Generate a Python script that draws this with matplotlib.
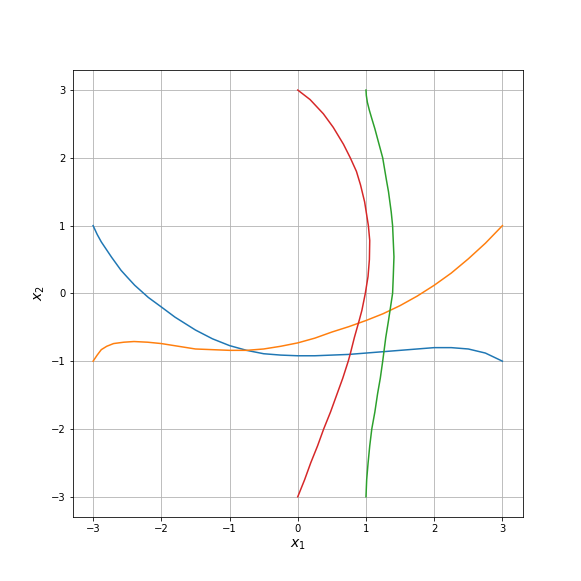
import matplotlib
matplotlib.use("Agg")
import matplotlib.pyplot as plt

# curves
blue_x = [-3.0, -2.94, -2.88, -2.8, -2.73, -2.59, -2.5, -2.39, -2.19, -2.0, -1.8, -1.5, -1.25,
          -1.0, -0.75, -0.5, -0.25, 0.0, 0.25, 0.5, 0.75, 1.0, 1.25, 1.5, 1.75, 2.0, 2.25, 2.5,
          2.75, 3.0]
blue_y = [1.0, 0.87, 0.76, 0.64, 0.535, 0.34, 0.24, 0.12, -0.06, -0.20, -0.35, -0.54, -0.67,
          -0.77, -0.84, -0.89, -0.91, -0.92, -0.92, -0.91, -0.90, -0.88, -0.86, -0.84, -0.82,
          -0.80, -0.80, -0.82, -0.88, -1.0]

orange_x = [-3.0, -2.94, -2.88, -2.8, -2.7, -2.55, -2.4, -2.2, -2.0, -1.75, -1.5, -1.25, -1.0,
            -0.75, -0.5, -0.25, 0.0, 0.25, 0.5, 0.75, 1.0, 1.25, 1.5, 1.75, 2.0, 2.25, 2.5, 2.75, 3.0]
orange_y = [-1.0, -0.91, -0.83, -0.78, -0.74, -0.72, -0.71, -0.72, -0.74, -0.78, -0.82, -0.83, -0.84,
            -0.84, -0.82, -0.78, -0.73, -0.66, -0.57, -0.49, -0.40, -0.30, -0.18, -0.04, 0.12, 0.30,
            0.51, 0.74, 1.0]

green_x = [1.0, 1.005, 1.02, 1.05, 1.085, 1.13, 1.17, 1.245, 1.30, 1.33, 1.37, 1.39, 1.41, 1.40,
           1.39, 1.36, 1.33, 1.29, 1.245, 1.21, 1.17, 1.13, 1.085, 1.055, 1.03, 1.01, 1.0]
green_y = [3.0, 2.92, 2.82, 2.70, 2.58, 2.43, 2.28, 2.0, 1.67, 1.5, 1.2, 1.0, 0.54, 0.25,
           0.0, -0.2, -0.4, -0.65, -1.0, -1.25, -1.48, -1.75, -2.0, -2.25, -2.51, -2.75, -3.0]

red_x = [0.0, 0.09, 0.18, 0.375, 0.52, 0.67, 0.77, 0.86, 0.92, 0.98, 1.035, 1.055, 1.05, 1.03,
         0.99, 0.94, 0.90, 0.83, 0.77, 0.74, 0.66, 0.57, 0.48, 0.38, 0.29, 0.19, 0.10, 0.0]
red_y = [3.0, 2.93, 2.86, 2.65, 2.45, 2.20, 2.0, 1.8, 1.6, 1.35, 1.0, 0.78, 0.5, 0.25,
         0.0, -0.25, -0.4, -0.65, -0.89, -1.0, -1.25, -1.5, -1.75, -2.0, -2.25, -2.5, -2.75, -3.0]

fig, ax = plt.subplots(figsize=(581 / 72, 581 / 72), dpi=72)
ax.plot(blue_x, blue_y, color="C0")
ax.plot(orange_x, orange_y, color="C1")
ax.plot(green_x, green_y, color="C2")
ax.plot(red_x, red_y, color="C3")
ax.grid(True)
ax.set_xlabel("$x_1$", fontsize=14)
ax.set_ylabel("$x_2$", fontsize=14)
fig.savefig("out.png", dpi=72)
